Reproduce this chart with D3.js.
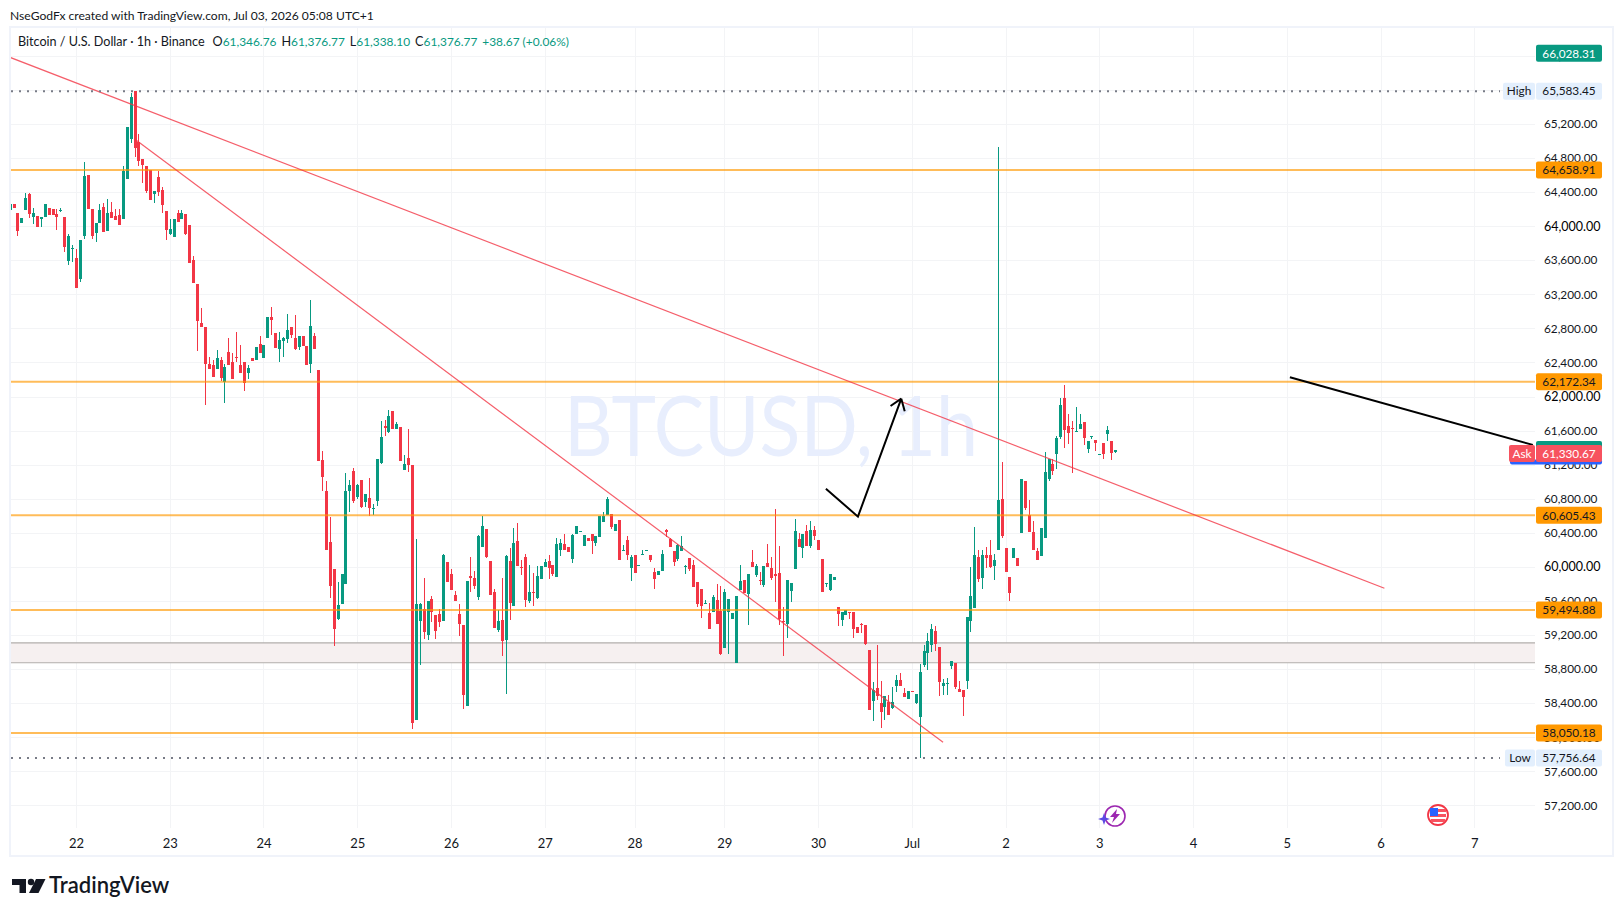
<!DOCTYPE html>
<html>
<head>
<meta charset="utf-8">
<title>BTCUSD 1h</title>
<script src="https://cdn.jsdelivr.net/npm/d3@7"></script>
<style>
  html, body { margin: 0; padding: 0; background: #fff; }
  svg { display: block; }
  text { font-family: Lato, sans-serif; }
</style>
</head>
<body>
<div id="chart"></div>
<script>
// hourly candles
const opens = [
  64188,64255,64157,64031,64188,64372,64102,64118,64078,64106,64208,64196,
  64137,64180,64102,63596,63733,63628,63385,63890,64596,64196,63914,64035,
  64220,63937,64169,64122,64125,64078,64549,65023,65583,64988,64784,64702,
  64659,64372,64576,64423,64173,63902,63871,64149,64078,64137,64008,63608,
  63326,62862,62815,62380,62368,62321,62427,62169,62521,62404,62468,62368,
  62404,62274,62451,62427,62615,62451,62686,62933,62745,62557,62655,62674,
  62815,62686,62580,62710,62592,62380,62710,62310,61251,60887,60287,59981,
  59387,59564,59805,60887,61122,60816,61016,60757,60804,60687,60769,61216,
  61655,61581,61827,61616,61639,61134,61275,61192,58205,59363,59505,59198,
  59620,59434,59446,59363,60063,59911,59675,59446,59316,58371,59895,59864,
  59644,60228,60440,60075,59710,59257,
  59379,59143,60075,59544,60299,60000,60114,59603,59709,59638,
  59862,60004,60075,60028,59886,60204,60263,60228,60098,60381,60405,60240,
  60334,60381,60275,60346,60523,60605,60617,60417,60546,60193,60310,59992,
  60134,60016,60145,60193,60134,59945,59910,59957,60432,60322,60181,60098,
  60181,60004,60110,60028,59827,59745,59572,59462,59473,59615,59485,59049,
  59473,59391,58872,59733,59851,59686,60063,59910,59845,59792,60051,59992,
  59921,59933,59367,59332,59721,59980,60322,60216,60417,60240,60428,60310,
  60098,59800,59733,59851,59532,59379,59438,59470,59473,59297,59324,59320,
  59025,58424,58577,58400,58353,58412,58342,58601,58672,58518,58448,58542,
  58400,58235,58849,58990,59084,59249,59061,58601,58625,58837,58872,58566,
  58554,58660,59367,59520,60122,59874,60145,60134,60016,60204,60792,60216,
  59886,60110,60110,60392,61004,60604,60404,60192,60133,60345,61027,61203,
  61321,61521,61980,61650,61630,61580,61615,61697,61380,61525,61486,61310,
  61450,61556,61474,61346.76
];
const highs = [
  64255,64255,64157,64090,64384,64384,64216,64118,64110,64255,64216,64196,
  64196,64208,64102,63910,63784,63726,63843,64749,64596,64196,64039,64255,
  64267,64314,64286,64204,64204,64706,65160,65560,65583.45,65078,64784,64702,
  64659,64408,64647,64459,64173,64078,64078,64188,64188,64137,64008,63655,
  63326,63043,62815,62463,62427,62545,62463,62380,62686,62510,62757,62604,
  62404,62368,62451,62580,62710,62604,62933,63051,62745,62757,62698,62968,
  62815,62956,62710,62710,62592,63137,62745,62310,61357,61004,60581,59981,
  59828,59911,61098,61016,61157,60969,61016,60851,61040,60734,61263,61710,
  61722,61839,61827,61698,61639,61310,61616,61192,60322,59575,59875,59600,
  59660,59434,59505,60150,60063,59981,59722,59564,59316,59840,60111,59946,
  60372,60593,60440,60075,59746,59493,
  59870,60140,60216,60452,60511,60086,60150,60028,59929,60016,
  60016,60098,60145,60028,60334,60322,60381,60228,60381,60476,60417,60369,
  60334,60381,60358,60593,60640,60817,60617,60499,60546,60252,60358,60145,
  60134,60028,60204,60204,60134,59992,59957,60193,60440,60334,60181,60270,
  60358,60028,60110,60086,59827,59745,59615,59576,59674,59803,59780,59745,
  59627,59462,59662,60028,59851,59921,60204,60039,59945,60016,60263,60122,
  60676,60240,59532,59851,59815,60558,60393,60381,60487,60534,60476,60310,
  60098,59810,59921,59886,59532,59473,59497,59470,59473,59297,59340,59320,
  59025,58648,59084,58660,58483,58495,58585,58731,58754,58577,58542,58542,
  58503,58860,59084,59226,59332,59308,59061,58683,58695,58896,58872,58664,
  58554,59407,60004,60464,60204,60204,60228,60310,60157,64926,61227,60227,
  59886,60227,60110,61027,61004,60780,60533,60227,60451,61345,61262,61262,
  61533,61980,62132,61791,61709,61874,61791,61697,61474,61533,61486,61321,
  61450,61650,61474,61376.77
];
const lows = [
  64188,64208,63890,64031,64188,64094,64020,63988,63992,64106,64129,64125,
  63953,64165,63702,63549,63577,63271,63341,63851,64196,63851,63812,64035,
  63933,63937,64098,64067,64008,64078,64549,64972,64811,64706,64502,64392,
  64306,64267,64353,64149,63835,63898,63871,64047,64078,63898,63573,63329,
  62537,62815,61898,62321,62227,62321,62180,61922,62368,62204,62404,62274,
  62063,62204,62412,62427,62510,62451,62686,62721,62568,62404,62463,62627,
  62686,62545,62545,62592,62368,62274,62557,61240,60887,60193,59640,59068,
  59375,59564,59805,60640,60746,60793,60687,60699,60593,60604,60710,61204,
  61533,61569,61616,61616,61240,61134,61110,58099,58205,58843,59151,59139,
  59352,59151,59292,59363,59828,59734,59600,59186,58335,58371,59700,59746,
  59617,60228,60110,59675,59281,59233,
  58955,58507,59379,59544,60016,59910,59532,59579,59544,59627,
  59862,60004,59862,59890,59886,60126,60204,60169,60051,60381,60405,60240,
  60299,60157,60240,60346,60523,60605,60440,60417,60086,60193,60086,59839,
  59933,60016,60145,60193,60063,59745,59910,59957,60354,60228,60016,60075,
  60181,59921,59957,59768,59532,59403,59572,59273,59473,59332,58965,59049,
  58978,59391,58872,59733,59697,59320,60004,59886,59792,59768,60004,59843,
  59591,59320,58955,59167,59591,59980,60228,60110,60240,60216,60310,60204,
  59709,59768,59721,59851,59308,59308,59438,59391,59167,59226,59222,59084,
  58318,58188,58436,58106,58200,58259,58330,58530,58601,58471,58448,58530,
  58389,57756.64,58825,58790,59002,59014,58483,58495,58495,58801,58566,58530,
  58247,58566,59238,59520,59827,59745,59992,59992,59851,60204,60345,59945,
  59604,60110,60016,60392,60662,60404,60204,60086,60133,60345,61004,61074,
  61152,61497,61392,61439,61098,61580,61615,61427,61333,61497,61356,61310,
  61262,61474,61250,61338.10
];
const closes = [
  64255,64208,63937,64090,64325,64137,64157,63988,64110,64255,64129,64125,
  64106,64188,63753,63890,63741,63271,63843,64588,64196,63890,64039,64184,
  63933,64157,64098,64067,64008,64643,65160,65517,64913,64760,64717,64416,
  64306,64408,64404,64243,63953,63961,64078,64047,64157,63910,63573,63329,
  62890,62815,62384,62321,62227,62451,62216,62345,62368,62204,62451,62274,
  62157,62333,62412,62580,62510,62604,62933,62898,62568,62662,62686,62780,
  62721,62557,62710,62592,62368,62827,62557,61240,61051,60193,59770,59269,
  59553,59911,60887,60957,60769,60957,60699,60851,60687,60695,61263,61522,
  61632,61769,61616,61675,61240,61204,61192,58170,59564,59564,59233,59600,
  59470,59245,59352,60134,59828,59734,59600,59328,58500,59840,59875,59770,
  60357,60475,60122,59675,59281,59363,
  59131,60126,59576,60275,60016,59984,59615,59709,59697,59898,
  60016,60063,59992,59921,60263,60275,60204,60169,60369,60476,60417,60369,
  60299,60299,60358,60593,60593,60794,60464,60499,60086,60204,60134,60122,
  59933,60028,60157,60204,60086,59862,59957,60157,60414,60228,60063,60252,
  60240,60012,59980,59768,59568,59544,59580,59273,59650,59332,58978,59709,
  59627,59462,59662,59839,59697,59921,60004,60016,59835,60016,60004,59874,
  59898,59391,59355,59851,59815,60417,60228,60381,60240,60428,60358,60204,
  59709,59810,59921,59886,59450,59473,59497,59462,59273,59226,59315,59096,
  58318,58554,58483,58294,58483,58259,58412,58672,58601,58471,58542,58534,
  58503,58766,59014,59131,59273,59096,58648,58636,58636,58896,58589,58530,
  58471,59407,59662,60145,59862,60145,60110,60004,60086,60780,60368,59945,
  59698,60216,60016,61027,60686,60404,60204,60086,60451,61109,61262,61121,
  61509,61897,61603,61568,61615,61595,61674,61509,61474,61533,61450,61321,
  61321,61603,61333,61376.77
];

const dayLabels = ['22','23','24','25','26','27','28','29','30','Jul','2','3','4','5','6','7'];
const dayBars = [17,41,65,89,113,137,160,183,207,231,255,279,303,327,351,375];
const priceTicks = [66000,65600,65200,64800,64400,64000,63600,63200,62800,62400,62000,61600,61200,60800,60400,60000,59600,59200,58800,58400,58000,57600,57200];
const majorTicks = [66000,64000,62000,60000,58000];

const levels = [64658.91,62172.34,60605.43,59494.88,58050.18];
const bandPrices = [59108,58875];
const highPrice = 65583.45;
const lowPrice = 57756.64;
const askPrice = 61330.67;
const lastPrice = 61376.77;
const topPrice = 66028.31;

// drawings, as bar index and price
const trendABars = [0,352], trendAPrices = [65983,59750];
const trendBBars = [32,239], trendBPrices = [65023,57941];
const arrowBars = [209,217.2,228.3], arrowPrices = [60918,60590,61975];
const blackBars = [327.8,390], blackPrices = [62226,61432];

const headerValues = [['O','61,346.76'],['H','61,376.77'],['L','61,338.10'],['C','61,376.77']];

const width = 1623, height = 916;
const plot = { left: 11, right: 1535, top: 28, bottom: 828 };
const up = '#089981', down = '#f23645';

const x = d3.scaleLinear().domain([17,279]).range([76,1099.3]);
const y = d3.scaleLinear().domain([64658.91,58050.18]).range([170,733]);
const fmt = d3.format(',.2f');

const svg = d3.select('#chart').append('svg')
    .attr('width', width)
    .attr('height', height);

svg.append('defs').append('clipPath').attr('id', 'plot-clip')
    .append('rect')
    .attr('x', plot.left).attr('y', plot.top)
    .attr('width', plot.right - plot.left)
    .attr('height', plot.bottom - plot.top);

svg.append('text')
    .attr('x', 10).attr('y', 20)
    .attr('font-size', 12.1).attr('fill', '#131722')
    .text('NseGodFx created with TradingView.com, Jul 03, 2026 05:08 UTC+1');

// outer frame
svg.append('rect')
    .attr('x', 10).attr('y', 27)
    .attr('width', 1603).attr('height', 829)
    .attr('fill', 'none').attr('stroke', '#f0f3fa').attr('stroke-width', 2);

// grid
svg.append('g').selectAll('line')
    .data(priceTicks)
    .join('line')
    .attr('x1', plot.left).attr('x2', plot.right)
    .attr('y1', d => Math.round(y(d)) + 0.5).attr('y2', d => Math.round(y(d)) + 0.5)
    .attr('stroke', '#f3f4f6');

svg.append('g').selectAll('line')
    .data(dayBars)
    .join('line')
    .attr('x1', d => Math.round(x(d)) + 0.5).attr('x2', d => Math.round(x(d)) + 0.5)
    .attr('y1', plot.top).attr('y2', plot.bottom)
    .attr('stroke', '#f3f4f6');

// watermark
svg.append('text')
    .attr('x', 771).attr('y', 456)
    .attr('text-anchor', 'middle')
    .attr('font-size', 84)
    .attr('textLength', 414).attr('lengthAdjust', 'spacingAndGlyphs')
    .attr('fill', '#e8eefd')
    .text('BTCUSD, 1h');

const chart = svg.append('g').attr('clip-path', 'url(#plot-clip)');

// band
chart.append('rect')
    .attr('x', plot.left).attr('width', plot.right - plot.left)
    .attr('y', y(bandPrices[0])).attr('height', y(bandPrices[1]) - y(bandPrices[0]))
    .attr('fill', '#f6f0f0');
chart.selectAll('.band-line')
    .data(bandPrices)
    .join('line')
    .attr('class', 'band-line')
    .attr('x1', plot.left).attr('x2', plot.right)
    .attr('y1', d => y(d)).attr('y2', d => y(d))
    .attr('stroke', '#b2aeab').attr('stroke-width', 1.2);

// candles
const bars = d3.range(opens.length);
const colorOf = i => closes[i] >= opens[i] ? up : down;

chart.selectAll('.wick')
    .data(bars)
    .join('rect')
    .attr('class', 'wick')
    .attr('x', i => Math.round(x(i)))
    .attr('y', i => y(highs[i]))
    .attr('width', 1)
    .attr('height', i => y(lows[i]) - y(highs[i]))
    .attr('fill', colorOf)
    .attr('shape-rendering', 'crispEdges');

chart.selectAll('.body')
    .data(bars)
    .join('rect')
    .attr('class', 'body')
    .attr('x', i => Math.round(x(i)) - 1)
    .attr('y', i => y(Math.max(opens[i], closes[i])))
    .attr('width', 3)
    .attr('height', i => Math.max(1, Math.abs(y(opens[i]) - y(closes[i]))))
    .attr('fill', colorOf)
    .attr('shape-rendering', 'crispEdges');

// horizontal levels
chart.selectAll('.level')
    .data(levels)
    .join('line')
    .attr('class', 'level')
    .attr('x1', plot.left).attr('x2', plot.right)
    .attr('y1', d => y(d)).attr('y2', d => y(d))
    .attr('stroke', '#ff9800').attr('stroke-opacity', 0.65).attr('stroke-width', 2);

// high / low dotted lines
svg.selectAll('.extreme')
    .data([highPrice, lowPrice])
    .join('line')
    .attr('class', 'extreme')
    .attr('x1', plot.left).attr('x2', 1500)
    .attr('y1', d => y(d)).attr('y2', d => y(d))
    .attr('stroke', '#787b86').attr('stroke-width', 2).attr('stroke-dasharray', '2 6');

// drawn lines
const line = d3.line().x(d => x(d[0])).y(d => y(d[1]));

[[trendABars, trendAPrices], [trendBBars, trendBPrices]].forEach(t => {
    chart.append('path')
        .attr('d', line(d3.zip(t[0], t[1])))
        .attr('fill', 'none')
        .attr('stroke', down).attr('stroke-opacity', 0.8).attr('stroke-width', 1.2);
});

chart.append('path')
    .attr('d', line(d3.zip(blackBars, blackPrices)))
    .attr('fill', 'none').attr('stroke', '#000').attr('stroke-width', 2);

chart.append('path')
    .attr('d', line(d3.zip(arrowBars, arrowPrices)))
    .attr('fill', 'none').attr('stroke', '#000').attr('stroke-width', 2);

// arrow head at the last point
const tipX = x(arrowBars[2]), tipY = y(arrowPrices[2]);
const ang = Math.atan2(tipY - y(arrowPrices[1]), tipX - x(arrowBars[1]));
const headLen = 13;
[-0.62, 0.62].forEach(a => {
    svg.append('line')
        .attr('x1', tipX).attr('y1', tipY)
        .attr('x2', tipX - headLen * Math.cos(ang + a))
        .attr('y2', tipY - headLen * Math.sin(ang + a))
        .attr('stroke', '#000').attr('stroke-width', 2);
});

// axes
const xAxis = svg.append('g')
    .attr('transform', `translate(0,${plot.bottom})`)
    .call(d3.axisBottom(x).tickValues(dayBars).tickSize(0).tickPadding(11)
        .tickFormat((d, i) => dayLabels[i]));
xAxis.select('.domain').remove();
xAxis.selectAll('text')
    .attr('font-family', 'Lato, sans-serif')
    .attr('font-size', 13).attr('fill', '#131722');

const yAxis = svg.append('g')
    .attr('transform', `translate(${plot.right},0)`)
    .call(d3.axisRight(y).tickValues(priceTicks).tickSize(0).tickFormat(fmt));
yAxis.select('.domain').remove();
yAxis.selectAll('text')
    .attr('font-family', 'Lato, sans-serif')
    .attr('x', 9)
    .attr('font-size', d => majorTicks.includes(d) ? 12.5 : 11.8)
    .attr('fill', d => majorTicks.includes(d) ? '#000' : '#131722');

// price labels on the right
function priceLabel(price, fill, textFill, left, right, txt, h) {
    const g = svg.append('g');
    g.append('rect')
        .attr('x', left).attr('width', right - left)
        .attr('y', y(price) - h / 2).attr('height', h)
        .attr('rx', 2)
        .attr('fill', fill);
    g.append('text')
        .attr('x', (left + right) / 2).attr('y', y(price))
        .attr('dy', '0.36em')
        .attr('text-anchor', 'middle')
        .attr('font-size', 11.8)
        .attr('fill', textFill)
        .text(txt);
}

priceLabel(topPrice, up, '#fff', 1536, 1602, fmt(topPrice), 17);
levels.forEach(p => priceLabel(p, '#ff9800', '#131722', 1536, 1602, fmt(p), 17));
priceLabel(highPrice, '#e3effd', '#131722', 1536, 1602, fmt(highPrice), 17);
priceLabel(highPrice, '#e3effd', '#131722', 1503, 1535, 'High', 17);
priceLabel(lowPrice, '#e3effd', '#131722', 1505, 1535, 'Low', 17);
priceLabel(lowPrice, '#e3effd', '#131722', 1536, 1602, fmt(lowPrice), 17);

// last price, bid edge and ask stacked on top of each other
priceLabel(lastPrice, up, '#fff', 1536, 1602, fmt(lastPrice), 17);
svg.append('rect')
    .attr('x', 1510).attr('width', 92)
    .attr('y', y(askPrice) + 6).attr('height', 5)
    .attr('rx', 2).attr('fill', '#2962ff');
priceLabel(askPrice, '#f7525f', '#fff', 1536, 1602, fmt(askPrice), 17);
priceLabel(askPrice, '#f7525f', '#fff', 1509, 1535, 'Ask', 17);

// header line
const header = svg.append('text')
    .attr('x', 18).attr('y', 46)
    .attr('font-size', 12.6).attr('fill', '#131722');
header.append('tspan').text('Bitcoin / U.S. Dollar \u00b7 1h \u00b7 Binance');
headerValues.forEach((d, i) => {
    header.append('tspan').attr('dx', i === 0 ? 8 : 5).text(d[0]);
    header.append('tspan').attr('fill', up).attr('font-size', 11.9).text(d[1]);
});
header.append('tspan').attr('dx', 5).attr('fill', up).attr('font-size', 11.9).text('+38.67 (+0.06%)');

// earnings style marker
const bolt = svg.append('g').attr('transform', 'translate(1115,816)');
bolt.append('circle').attr('r', 10).attr('fill', '#fff').attr('stroke', '#9c27b0').attr('stroke-width', 1.6);
bolt.append('path')
    .attr('d', 'M2,-7 L-5,1 L-1,1 L-3,7 L5,-2 L1,-2 Z')
    .attr('fill', '#9c27b0');
bolt.append('path')
    .attr('d', 'M-11,-3 L-9.5,1.5 L-5,3 L-9.5,4.5 L-11,9 L-12.5,4.5 L-17,3 L-12.5,1.5 Z')
    .attr('fill', '#5b4ae4');

// US flag marker
const flag = svg.append('g').attr('transform', 'translate(1438,815)');
flag.append('circle').attr('r', 10).attr('fill', '#fff').attr('stroke', '#f23645').attr('stroke-width', 1.8);
flag.append('rect').attr('x', -8).attr('y', -1).attr('width', 16).attr('height', 3).attr('fill', '#f7525f');
flag.append('rect').attr('x', -7).attr('y', 4).attr('width', 14).attr('height', 3).attr('fill', '#f7525f');
flag.append('rect').attr('x', 0).attr('y', -6).attr('width', 8).attr('height', 3).attr('fill', '#f7525f');
flag.append('rect').attr('x', -8).attr('y', -7).attr('width', 8).attr('height', 8).attr('fill', '#2962ff');

// logo
const logo = svg.append('g').attr('fill', '#131722');
logo.append('path').attr('d', 'M12,879 H26 V893 H19.5 V885 H12 Z');
logo.append('circle').attr('cx', 31).attr('cy', 882).attr('r', 3.2);
logo.append('path').attr('d', 'M36,879 H45.5 L38.5,893 H29 Z');
svg.append('text')
    .attr('x', 49).attr('y', 893)
    .attr('font-family', 'Inter, sans-serif')
    .attr('font-size', 22).attr('font-weight', 600)
    .attr('fill', '#131722')
    .text('TradingView');
</script>
</body>
</html>
